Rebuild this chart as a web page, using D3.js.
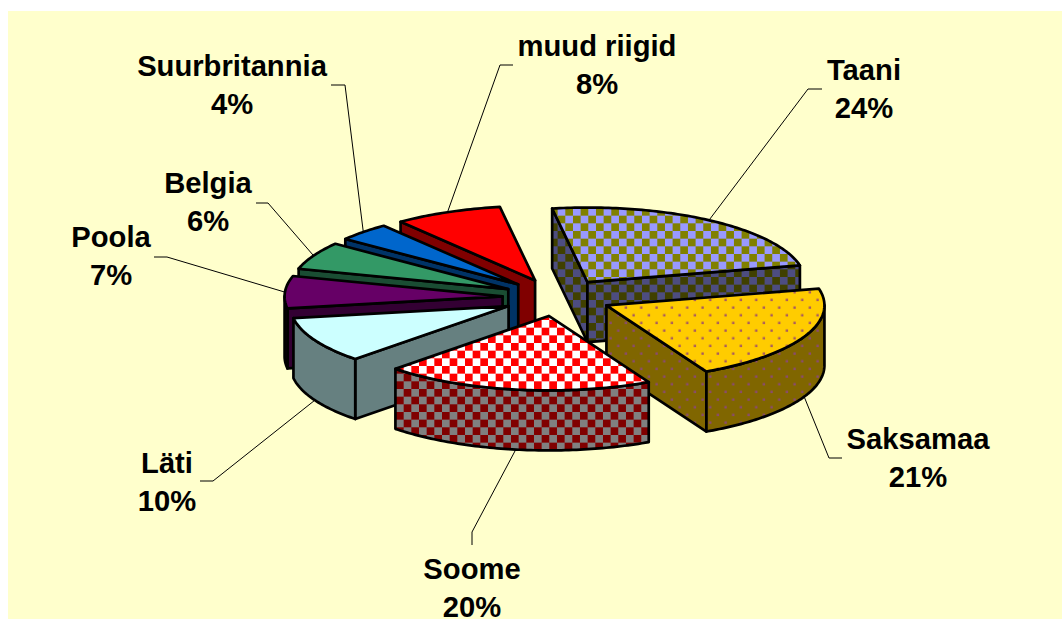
<!DOCTYPE html>
<html lang="en">

<head>
    <meta charset="UTF-8">
    <title>Exploded 3D pie</title>
    <script src="https://d3js.org/d3.v7.min.js"></script>
    <style>
        body,
        html {
            margin: 0;
            padding: 0;
            overflow: hidden;
            background: #fff;
        }

        svg {
            display: block;
        }

        text {
            font-family: "Liberation Sans", Arial, sans-serif;
            font-weight: bold;
            font-size: 29.2px;
            text-anchor: middle;
            fill: #000;
        }
    </style>
</head>

<body>
    <script>
        // data, clockwise from the first slice
        const countries = ["Taani", "Saksamaa", "Soome", "Läti", "Poola", "Belgia", "Suurbritannia", "muud riigid"];
        const shares = [24, 21, 20, 10, 7, 6, 4, 8];
        const topFills = ["url(#taaniTop)", "url(#saksaTop)", "url(#soomeTop)", "#ccffff", "#660066", "#339966", "#0066cc", "#ff0000"];
        const wallFills = ["url(#taaniWall)", "url(#saksaWall)", "url(#soomeWall)", "#668080", "#330033", "#1a4d33", "#003366", "#800000"];

        const width = 1062;
        const height = 619;
        const deg = Math.PI / 180;
        const depth = 60;
        const explode = 0.25;

        const x = d3.scaleLinear().domain([-1, 1]).range([339, 775]);
        const y = d3.scaleLinear().domain([-1, 1]).range([223, 372]);

        // label centre x and baseline of the name, leader goes from elbow points to the slice
        const labelPos = [
            { x: 864, y: 80, leader: [[822, 89], [808, 89]] },
            { x: 918, y: 449, leader: [[842, 458], [829, 458]] },
            { x: 472, y: 579, leader: [[472, 545], [472, 532]] },
            { x: 167, y: 473, leader: [[200, 481], [213, 481]] },
            { x: 111, y: 247, leader: [[154, 257], [167, 257]] },
            { x: 208, y: 193, leader: [[256, 203], [268, 203]] },
            { x: 232, y: 76, leader: [[331, 85], [345, 85]] },
            { x: 597, y: 56, leader: [[513, 65], [500, 65]] }
        ];
        const lineStep = 38;

        const svg = d3.select("body")
            .append("svg")
            .attr("width", width)
            .attr("height", height);

        const defs = svg.append("defs");

        function checker(id, a, b, ox, oy) {
            const size = 15.33;
            const p = defs.append("pattern")
                .attr("id", id)
                .attr("patternUnits", "userSpaceOnUse")
                .attr("x", ox)
                .attr("y", oy)
                .attr("width", size)
                .attr("height", size);
            p.append("rect").attr("width", size).attr("height", size).attr("fill", a);
            p.append("rect").attr("width", size / 2).attr("height", size / 2).attr("fill", b);
            p.append("rect").attr("x", size / 2).attr("y", size / 2).attr("width", size / 2).attr("height", size / 2).attr("fill", b);
        }

        function dots(id, base, dot, ox, oy) {
            const size = 15.33;
            const p = defs.append("pattern")
                .attr("id", id)
                .attr("patternUnits", "userSpaceOnUse")
                .attr("x", ox)
                .attr("y", oy)
                .attr("width", size)
                .attr("height", size);
            p.append("rect").attr("width", size).attr("height", size).attr("fill", base);
            p.append("rect").attr("x", 2.4).attr("y", 2.4).attr("width", 2.4).attr("height", 2.4).attr("fill", dot);
            p.append("rect").attr("x", 2.4 + size / 2).attr("y", 2.4 + size / 2).attr("width", 2.4).attr("height", 2.4).attr("fill", dot);
        }

        checker("taaniTop", "#9999ff", "#808000", 565.3, 208);
        checker("taaniWall", "#4d4d80", "#404000", 565.3, 208);
        checker("soomeTop", "#ffffff", "#ff0000", 396, 320);
        checker("soomeWall", "#808080", "#800000", 396, 320);
        dots("saksaTop", "#ffcc00", "#a85a60", 607, 304);
        dots("saksaWall", "#806600", "#8a4a70", 607, 304);

        // yellow panel
        svg.append("rect")
            .attr("x", 8)
            .attr("y", 11)
            .attr("width", width - 8)
            .attr("height", height - 11)
            .attr("fill", "#ffffcc");

        const pie = d3.pie()
            .sort(null)
            .startAngle(-9.3 * deg)
            .endAngle(350.7 * deg);

        const slices = pie(shares).map((d, i) => {
            const mid = (d.startAngle + d.endAngle) / 2;
            return {
                i: i,
                a0: d.startAngle,
                a1: d.endAngle,
                mid: mid,
                ox: explode * Math.sin(mid),
                oy: -explode * Math.cos(mid)
            };
        });

        // project a slice point (angle, radius 0..1) at height z px below the top face
        function pt(s, a, r, z) {
            return [
                x(s.ox + r * Math.sin(a)),
                y(s.oy - r * Math.cos(a)) + z
            ];
        }

        function arcAngles(a0, a1) {
            const n = Math.max(2, Math.ceil((a1 - a0) / deg));
            return d3.range(n + 1).map(k => a0 + (a1 - a0) * k / n);
        }

        const line = d3.line();

        const g = svg.append("g")
            .attr("stroke", "#000")
            .attr("stroke-width", 2.7)
            .attr("stroke-linejoin", "round");

        // back slices first
        const order = slices.slice().sort((p, q) => d3.ascending(-Math.cos(p.mid), -Math.cos(q.mid)));

        order.forEach(s => {
            const slice = g.append("g");
            const wall = wallFills[s.i];

            // radial sides, only when they face the viewer
            [[s.a0, s.a0 - 90 * deg], [s.a1, s.a1 + 90 * deg]].forEach(([a, normal]) => {
                if (Math.cos(normal) < 0) {
                    slice.append("path")
                        .attr("fill", wall)
                        .attr("d", line([pt(s, 0, 0, 0), pt(s, a, 1, 0), pt(s, a, 1, depth), pt(s, 0, 0, depth)]) + "Z");
                }
            });

            // outer side, front half of the rim
            const from = Math.max(s.a0, 90 * deg);
            const to = Math.min(s.a1, 270 * deg);
            if (to > from) {
                const angles = arcAngles(from, to);
                slice.append("path")
                    .attr("fill", wall)
                    .attr("d", line(angles.map(a => pt(s, a, 1, 0))
                        .concat(angles.slice().reverse().map(a => pt(s, a, 1, depth)))) + "Z");
            }

            // top face
            slice.append("path")
                .attr("fill", topFills[s.i])
                .attr("d", line([pt(s, 0, 0, 0)].concat(arcAngles(s.a0, s.a1).map(a => pt(s, a, 1, 0)))) + "Z");
        });

        // leaders, ending on the rim at the middle of each slice
        svg.append("g")
            .selectAll("path")
            .data(slices)
            .enter()
            .append("path")
            .attr("fill", "none")
            .attr("stroke", "#000")
            .attr("stroke-width", 1)
            .attr("d", s => {
                const front = Math.cos(s.mid) < 0;
                return line(labelPos[s.i].leader.concat([pt(s, s.mid, 1, front ? depth : 0)]));
            });

        // labels
        const labels = svg.append("g")
            .selectAll("text")
            .data(slices)
            .enter()
            .append("text")
            .attr("y", s => labelPos[s.i].y);

        labels.append("tspan")
            .attr("x", s => labelPos[s.i].x)
            .text(s => countries[s.i]);

        labels.append("tspan")
            .attr("x", s => labelPos[s.i].x)
            .attr("dy", lineStep)
            .text(s => shares[s.i] + "%");
    </script>
</body>

</html>
